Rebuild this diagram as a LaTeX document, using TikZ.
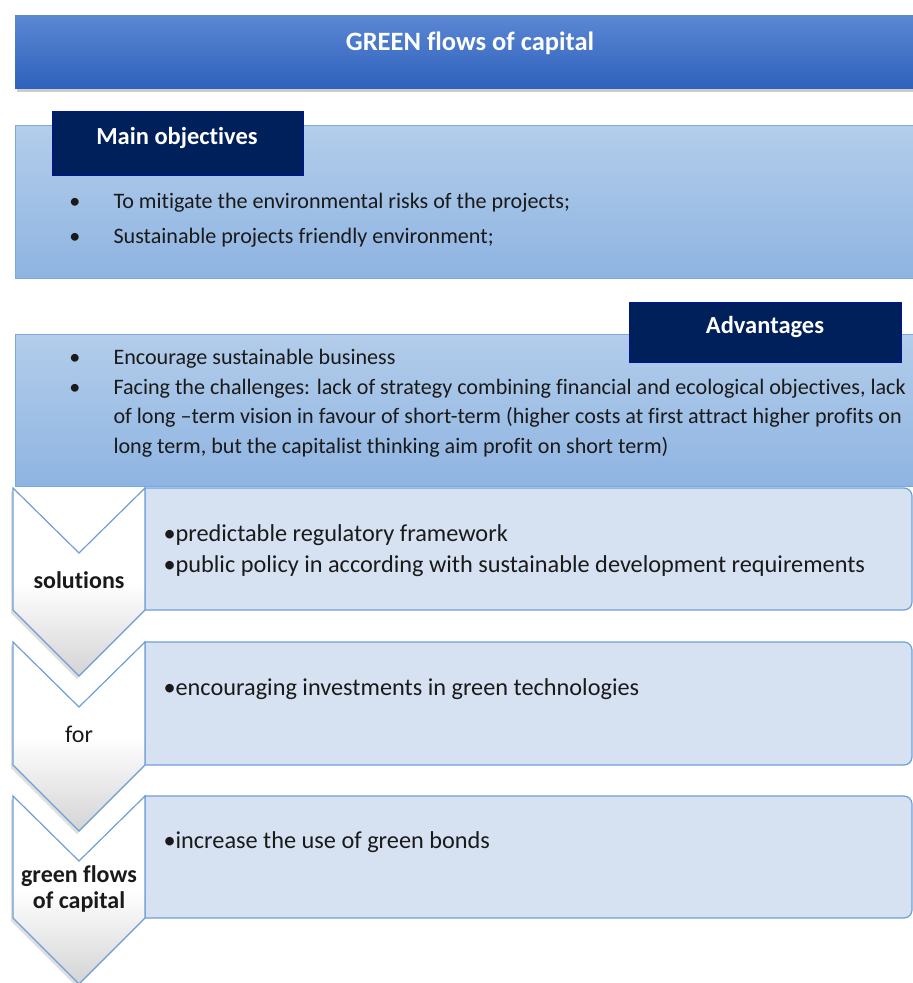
\documentclass[tikz,border=0pt]{standalone}
\usepackage{fontspec}
\setmainfont{Carlito}[Ligatures=NoCommon]
\usetikzlibrary{positioning, shadows}

\definecolor{headtop}{HTML}{5B87D3}
\definecolor{headbot}{HTML}{2F62BD}
\definecolor{bandtop}{HTML}{B3CDEA}
\definecolor{bandbot}{HTML}{8EB4E2}
\definecolor{bandline}{HTML}{7AAADC}
\definecolor{navy}{HTML}{00205B}
\definecolor{boxfill}{HTML}{D6E2F2}
\definecolor{boxline}{HTML}{6E9FD6}
\definecolor{txt}{HTML}{1A1A1A}

\begin{document}
\begin{tikzpicture}[
    x=1pt, y=-1pt,
    font=\fontsize{22.1}{29}\selectfont,
    % Blocks
    head/.style ={anchor=north west, inner sep=0pt, minimum width=900pt, minimum height=73pt,
                  top color=headtop, bottom color=headbot,
                  drop shadow={shadow xshift=2pt, shadow yshift=-4pt, opacity=.4}},
    band/.style ={draw=bandline, line width=1pt, anchor=north west, inner sep=0pt,
                  minimum width=900pt, top color=bandtop, bottom color=bandbot},
    tag/.style  ={draw=navy!60!blue, fill=navy, anchor=north west, inner sep=0pt},
    tagtxt/.style={anchor=base, text=white, font=\fontsize{24.5}{28}\selectfont\bfseries},
    chev/.style ={draw=boxline, line width=1.2pt, top color=white, bottom color=black!17,
                  middle color=white,
                  drop shadow={shadow xshift=-2pt, shadow yshift=-3pt, opacity=.25}},
    rbox/.style ={draw=boxline, line width=1.2pt, fill=boxfill},
    % Texts
    dot/.style  ={anchor=base, text=txt},
    item/.style ={anchor=base west, text=txt},
    entry/.style={anchor=base west, text=txt, font=\fontsize{24.3}{31}\selectfont},
    chevtxt/.style={text=txt, align=center, font=\fontsize{24}{26}\selectfont}
]
\useasboundingbox (0,0) rectangle (913,983);

% Top edges of the three chevron rows
\def\yA{488}
\def\yB{642}
\def\yC{796}

% ----------------------------- Header -------------------------------
\node[head] (head) at (15,15) {};
\node[anchor=base, text=white, font=\fontsize{26.5}{30}\selectfont\bfseries] (headtxt) at (470,50)
    {GREEN flows of capital};

% ------------------------- Main objectives --------------------------
\node[band, minimum height=153pt] (objband) at (15,125) {};
\node[tag, minimum width=251pt, minimum height=64pt] (objtag) at (52,111) {};
\node[tagtxt] (objtxt) at (177,144) {Main objectives};

\node[dot]  (objdotA) at (75,208) {\textbullet};
\node[item] (objA)    at (110,208) {To mitigate the environmental risks of the projects;};
\node[dot]  (objdotB) at (75,243) {\textbullet};
\node[item] (objB)    at (110,243) {Sustainable projects friendly environment;};

% --------------------------- Advantages -----------------------------
\node[band, minimum height=152pt] (advband) at (15,334) {};
\node[tag, minimum width=272pt, minimum height=60pt] (advtag) at (629,302) {};
\node[tagtxt] (advtxt) at (765,333) {Advantages};

\node[dot]  (advdotA) at (75,364) {\textbullet};
\node[item] (advA)    at (110,364) {Encourage sustainable business};
\node[dot]  (advdotB) at (75,394) {\textbullet};
\node[item] (advB)    at (110,394) {Facing the challenges: lack of strategy combining financial and ecological objectives, lack};
\node[item] (advC)    at (110,423) {of long –term vision in favour of short-term (higher costs at first attract higher profits on};
\node[item] (advD)    at (110,453) {long term, but the capitalist thinking aim profit on short term)};

% ------------------------ Right-hand boxes --------------------------
\draw[rbox] (145,\yA) -- ++(759,0) arc[start angle=90, end angle=0, radius=8pt]
    -- ++(0,106) arc[start angle=0, end angle=-90, radius=8pt] -- ++(-759,0) -- cycle;
\draw[rbox] (145,\yB) -- ++(759,0) arc[start angle=90, end angle=0, radius=8pt]
    -- ++(0,107) arc[start angle=0, end angle=-90, radius=8pt] -- ++(-759,0) -- cycle;
\draw[rbox] (145,\yC) -- ++(759,0) arc[start angle=90, end angle=0, radius=8pt]
    -- ++(0,106) arc[start angle=0, end angle=-90, radius=8pt] -- ++(-759,0) -- cycle;

\node[entry] (solA) at (160,541) {\textbullet predictable regulatory framework};
\node[entry] (solB) at (160,572) {\textbullet public policy in according with sustainable development requirements};
\node[entry] (forA) at (160,695) {\textbullet encouraging investments in green technologies};
\node[entry] (gfcA) at (160,848) {\textbullet increase the use of green bonds};

% ----------------------------- Chevrons -----------------------------
\draw[chev] (13,\yA) -- ++(66,65) -- ++(66,-65) -- ++(0,122) -- ++(-66,66) -- ++(-66,-66) -- cycle;
\draw[chev] (13,\yB) -- ++(66,65) -- ++(66,-65) -- ++(0,123) -- ++(-66,66) -- ++(-66,-66) -- cycle;
\draw[chev] (13,\yC) -- ++(66,65) -- ++(66,-65) -- ++(0,122) -- ++(-66,66) -- ++(-66,-66) -- cycle;

\node[chevtxt, anchor=base, font=\fontsize{24}{26}\selectfont\bfseries] (soltxt) at (79,588) {solutions};
\node[chevtxt, anchor=base] (fortxt) at (79,742) {for};
\node[chevtxt, font=\fontsize{24}{26}\selectfont\bfseries] (gfctxt) at (79,889) {green flows\\of capital};

\end{tikzpicture}
\end{document}
